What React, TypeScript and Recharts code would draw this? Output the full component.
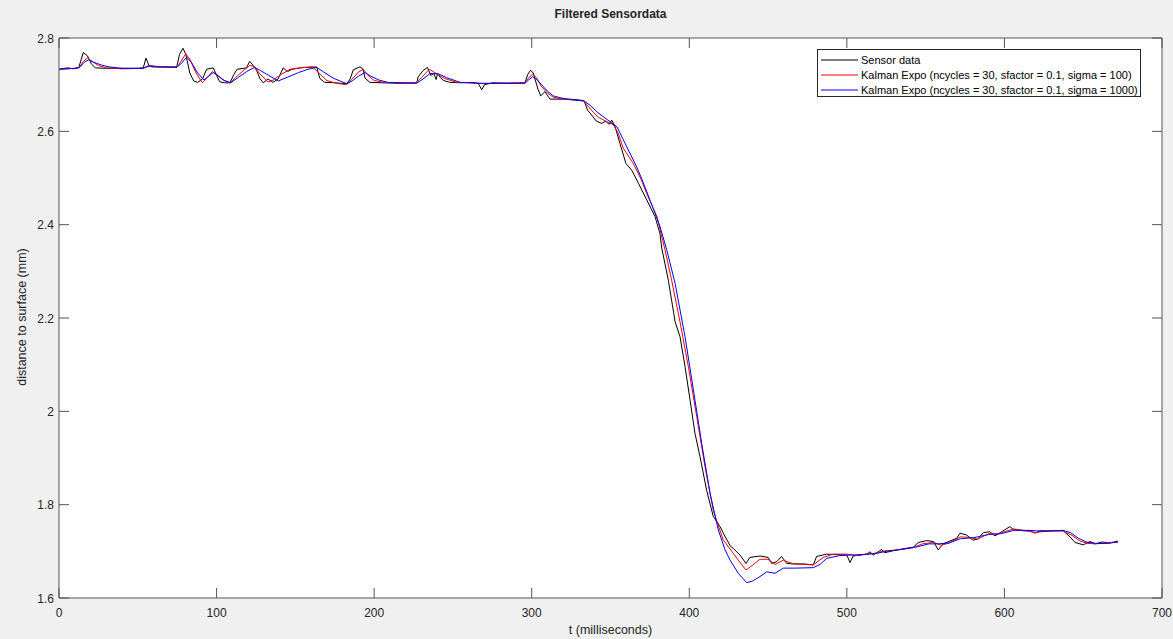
import { LineChart, Line, XAxis, YAxis, CartesianGrid } from "recharts"

// [t (ms), distance (mm)]
const sensorData: [number, number][] = [
  [0, 2.733], [3, 2.735], [6, 2.736], [9, 2.734], [12.5, 2.736], [15.4, 2.769], [18, 2.762], [20.5, 2.745], [23, 2.736],
  [30, 2.735], [40, 2.735], [50, 2.735], [53.5, 2.736], [55.2, 2.757], [57, 2.742], [59, 2.738], [65, 2.738], [74.7, 2.738],
  [76.5, 2.765], [78.7, 2.778], [80.5, 2.765], [83, 2.725], [85.5, 2.708], [88, 2.705], [91, 2.712], [93.7, 2.733],
  [97.9, 2.736], [100, 2.72], [102, 2.706], [105, 2.704], [108.5, 2.704], [111, 2.722], [113, 2.733], [119, 2.736],
  [121, 2.75], [123.5, 2.74], [125.5, 2.73], [127.5, 2.713], [129.6, 2.704], [132.7, 2.712], [135.8, 2.705], [139, 2.712],
  [142.3, 2.736], [145, 2.728], [148, 2.733], [155, 2.737], [163.5, 2.738], [165.6, 2.713], [168.6, 2.705], [175, 2.704],
  [182.6, 2.702], [184.7, 2.712], [186.8, 2.732], [191, 2.738], [193, 2.733], [194.2, 2.714], [197.3, 2.705], [205, 2.704],
  [215, 2.703], [227, 2.704], [228, 2.717], [231, 2.73], [233.8, 2.737], [236, 2.72], [238, 2.724], [239.3, 2.711],
  [240.3, 2.724], [242, 2.715], [244, 2.709], [248, 2.705], [255, 2.704], [262, 2.705], [266, 2.703], [268.3, 2.689],
  [270, 2.7], [275, 2.704], [285, 2.703], [295.7, 2.704], [297.5, 2.722], [299.3, 2.731], [301, 2.725], [302, 2.713],
  [304, 2.69], [305.7, 2.676], [308.4, 2.685], [311.6, 2.669], [318, 2.669], [324.3, 2.669], [333.2, 2.666], [335.5, 2.645],
  [338, 2.635], [341, 2.622], [344.4, 2.617], [347, 2.622], [349, 2.615], [350.8, 2.624], [352.9, 2.61], [356, 2.574],
  [359.8, 2.531], [363.4, 2.517], [367.7, 2.489], [373, 2.453], [378.3, 2.417], [381.4, 2.381], [382.5, 2.35],
  [386.7, 2.281], [391, 2.192], [394.1, 2.16], [397.3, 2.096], [400.5, 2.024], [403.6, 1.953], [406.8, 1.903], [411, 1.831],
  [415.2, 1.775], [419.5, 1.753], [421.6, 1.739], [425.9, 1.712], [428, 1.706], [432.2, 1.692], [436, 1.674], [438.5, 1.687],
  [444.9, 1.69], [450, 1.687], [452.3, 1.674], [455.5, 1.678], [458.6, 1.689], [461.8, 1.674], [466, 1.673], [472.4, 1.673],
  [478.7, 1.671], [480.8, 1.689], [487.2, 1.694], [500, 1.692], [502, 1.676], [504, 1.69], [512.6, 1.694], [514.7, 1.699],
  [516.8, 1.692], [522.1, 1.704], [524, 1.697], [531.6, 1.703], [542.2, 1.709], [545.4, 1.719], [550.7, 1.723], [555, 1.721],
  [558, 1.703], [561, 1.716], [569.7, 1.728], [571.8, 1.739], [576, 1.735], [580, 1.724], [583, 1.726], [586.6, 1.74],
  [590.7, 1.742], [594, 1.733], [597.3, 1.74], [603.5, 1.753], [605.6, 1.747], [612, 1.744], [616.3, 1.744], [619.4, 1.739],
  [622.6, 1.744], [637.4, 1.744], [641.6, 1.731], [644.8, 1.719], [650, 1.714], [654.4, 1.721], [657.6, 1.716], [662, 1.72],
  [667, 1.718], [672, 1.722],
]

const kalman100Data: [number, number][] = [
  [0, 2.733], [10, 2.735], [13, 2.737], [15.5, 2.75], [18, 2.757], [21, 2.75], [25, 2.741], [30, 2.736], [40, 2.734],
  [53.5, 2.735], [56, 2.74], [58, 2.741], [62, 2.738], [74.7, 2.737], [77, 2.748], [80.4, 2.766], [83, 2.755], [87, 2.725],
  [91, 2.704], [94, 2.715], [97.3, 2.728], [100, 2.722], [104, 2.71], [108.5, 2.704], [113, 2.718], [117, 2.73], [121, 2.741],
  [124, 2.739], [127, 2.725], [132.7, 2.706], [136, 2.71], [140, 2.72], [146.6, 2.733], [153, 2.736], [160.8, 2.738],
  [165, 2.725], [169.9, 2.709], [176, 2.703], [182.6, 2.7], [186, 2.712], [190, 2.727], [193.1, 2.733], [196, 2.72],
  [200, 2.709], [206, 2.705], [215, 2.704], [227, 2.704], [230, 2.715], [235, 2.733], [238, 2.727], [241, 2.72], [245, 2.713],
  [252.4, 2.705], [262, 2.704], [270, 2.702], [280, 2.703], [295.7, 2.704], [298, 2.714], [300.6, 2.723], [303, 2.715],
  [306, 2.697], [310, 2.682], [313.7, 2.673], [320, 2.669], [328, 2.667], [333.2, 2.665], [335, 2.657], [338, 2.645],
  [342.3, 2.63], [347, 2.622], [351.8, 2.614], [355, 2.595], [358.1, 2.564], [364.5, 2.531], [369, 2.5], [373, 2.467],
  [379.5, 2.417], [384.6, 2.346], [388.8, 2.281], [394.1, 2.192], [399.4, 2.096], [404.7, 1.989], [410, 1.881],
  [415.2, 1.788], [417.4, 1.765], [421.6, 1.724], [425.9, 1.705], [431.1, 1.681], [436, 1.66], [440, 1.67], [444.9, 1.683],
  [450, 1.683], [454.4, 1.672], [459.7, 1.681], [466, 1.673], [472, 1.672], [478.7, 1.671], [485, 1.687], [491.4, 1.694],
  [500, 1.694], [506, 1.691], [512, 1.694], [518, 1.696], [524, 1.701], [532, 1.703], [542, 1.708], [548, 1.716],
  [555, 1.719], [560, 1.713], [565, 1.718], [572, 1.731], [578, 1.73], [583, 1.726], [590, 1.738], [596, 1.737], [600, 1.742],
  [606, 1.748], [612, 1.745], [620, 1.74], [625, 1.743], [637, 1.744], [643, 1.734], [648, 1.722], [653, 1.717], [658, 1.716],
  [665, 1.718], [672, 1.72],
]

const kalman1000Data: [number, number][] = [
  [0, 2.733], [10, 2.735], [13, 2.737], [16, 2.748], [18.7, 2.753], [22, 2.748], [27, 2.742], [32, 2.738], [40, 2.735],
  [53.5, 2.735], [56.5, 2.739], [59, 2.74], [65, 2.738], [74.7, 2.737], [77.5, 2.745], [81, 2.759], [84, 2.748], [88, 2.725],
  [92, 2.71], [95, 2.718], [97.9, 2.726], [101, 2.719], [105, 2.709], [109, 2.704], [114, 2.716], [119, 2.728], [124, 2.737],
  [128, 2.73], [133, 2.72], [139.2, 2.708], [145, 2.716], [152, 2.726], [158, 2.733], [163.5, 2.737], [168, 2.727],
  [174, 2.714], [182.6, 2.702], [186, 2.708], [190, 2.718], [194.2, 2.726], [198, 2.718], [203, 2.71], [208.6, 2.705],
  [215, 2.704], [227, 2.703], [231, 2.712], [235.5, 2.724], [240.8, 2.723], [246, 2.715], [254.5, 2.705], [265, 2.703],
  [275, 2.703], [295.7, 2.703], [298, 2.71], [300.6, 2.717], [303, 2.712], [307, 2.697], [310, 2.686], [313.7, 2.676],
  [318, 2.672], [324.3, 2.668], [333.2, 2.665], [337, 2.656], [342, 2.64], [348, 2.625], [354, 2.61], [357, 2.59],
  [360.3, 2.567], [366.6, 2.524], [370, 2.497], [375, 2.453], [381.4, 2.396], [385.7, 2.346], [391, 2.274], [397.3, 2.16],
  [402.6, 2.046], [407.9, 1.931], [413.2, 1.824], [418.4, 1.746], [422.7, 1.703], [425.9, 1.681], [431.1, 1.653],
  [436.4, 1.633], [440, 1.636], [444.9, 1.646], [449.1, 1.656], [454.4, 1.653], [459.7, 1.664], [467, 1.664], [478.7, 1.665],
  [483, 1.672], [487.2, 1.685], [495.6, 1.691], [502, 1.692], [510, 1.693], [518, 1.695], [525, 1.7], [535, 1.704],
  [545, 1.71], [552, 1.716], [558, 1.716], [565, 1.718], [572, 1.727], [580, 1.729], [590, 1.736], [598, 1.738],
  [606, 1.745], [615, 1.745], [625, 1.743], [637, 1.745], [642, 1.74], [647, 1.728], [652, 1.72], [658, 1.717], [665, 1.717],
  [672, 1.72],
]

const xTicks = [0, 100, 200, 300, 400, 500, 600, 700]
const yTicks = [1.6, 1.8, 2, 2.2, 2.4, 2.6, 2.8]

const seriesNames = [
  "Sensor data",
  "Kalman Expo (ncycles = 30, sfactor = 0.1, sigma = 100)",
  "Kalman Expo (ncycles = 30, sfactor = 0.1, sigma = 1000)",
]
const seriesColors = ["#000000", "#ff0000", "#0000ff"]

const AXIS = "#555555"
const TEXT = "#262626"
const FONT = "'Liberation Sans', Arial, Helvetica, sans-serif"
const TICK_LEN = 10

const toRows = (pts: [number, number][]) => pts.map(([t, v]) => ({ t, v }))

// tick marks point into the plot, like MATLAB
function BottomTick({ x, payload }: any) {
  return (
    <g>
      <line x1={x} y1={598} x2={x} y2={598 - TICK_LEN} stroke={AXIS} />
      <text x={x} y={617} textAnchor="middle" fontSize={12} fill={TEXT} fontFamily={FONT}>{payload.value}</text>
    </g>
  )
}
function TopTick({ x }: any) {
  return <line x1={x} y1={38} x2={x} y2={38 + TICK_LEN} stroke={AXIS} />
}
function LeftTick({ y, payload }: any) {
  return (
    <g>
      <line x1={59} y1={y} x2={59 + TICK_LEN} y2={y} stroke={AXIS} />
      <text x={54} y={y + 4.5} textAnchor="end" fontSize={12} fill={TEXT} fontFamily={FONT}>{String(payload.value)}</text>
    </g>
  )
}
function RightTick({ y }: any) {
  return <line x1={1162} y1={y} x2={1162 - TICK_LEN} y2={y} stroke={AXIS} />
}

export default function App() {
  const series = [sensorData, kalman100Data, kalman1000Data].map(toRows)

  return (
    <div style={{ position: "fixed", left: 0, top: 0, width: 1173, height: 639, background: "#f0f0f0", fontFamily: FONT }}>
      <LineChart width={1173} height={639} margin={{ top: 37, right: 10, bottom: 0, left: 0 }}>
        <CartesianGrid fill="#ffffff" horizontal={false} vertical={false} />
        <XAxis
          type="number" dataKey="t" domain={[0, 700]} ticks={xTicks} allowDataOverflow
          height={41} stroke={AXIS} tickLine={false} tick={<BottomTick />} interval={0}
        />
        <XAxis
          xAxisId="top" orientation="top" type="number" dataKey="t" domain={[0, 700]} ticks={xTicks} allowDataOverflow
          height={1} stroke={AXIS} tickLine={false} tick={<TopTick />} interval={0}
        />
        <YAxis
          type="number" domain={[1.6, 2.8]} ticks={yTicks} allowDataOverflow
          width={59} stroke={AXIS} tickLine={false} tick={<LeftTick />} interval={0}
        />
        <YAxis
          yAxisId="right" orientation="right" type="number" domain={[1.6, 2.8]} ticks={yTicks} allowDataOverflow
          width={1} stroke={AXIS} tickLine={false} tick={<RightTick />} interval={0}
        />
        {series.map((rows, i) => (
          <Line
            key={seriesNames[i]} data={rows} dataKey="v" name={seriesNames[i]} type="linear"
            stroke={seriesColors[i]} strokeWidth={1} dot={false} isAnimationActive={false}
          />
        ))}
      </LineChart>

      <div style={{ position: "absolute", left: 59, width: 1103, top: 7, textAlign: "center", fontSize: 12, fontWeight: "bold", color: TEXT }}>
        Filtered Sensordata
      </div>
      <div style={{ position: "absolute", left: 59, width: 1103, top: 623, textAlign: "center", fontSize: 12.5, color: TEXT }}>
        t (milliseconds)
      </div>
      <div style={{ position: "absolute", left: 22, top: 318, width: 0, height: 0 }}>
        <div style={{ position: "absolute", left: -150, top: -8, width: 300, textAlign: "center", fontSize: 12.5, color: TEXT, transform: "rotate(-90deg)", whiteSpace: "nowrap" }}>
          distance to surface (mm)
        </div>
      </div>

      <div style={{ position: "absolute", left: 817, top: 49, width: 324, height: 48, boxSizing: "border-box", border: "1px solid #262626", background: "#fff", paddingTop: 2 }}>
        {seriesNames.map((name, i) => (
          <div key={name} style={{ display: "flex", alignItems: "center", height: 15.3, fontSize: 11, color: "#000", whiteSpace: "nowrap" }}>
            <svg width={43} height={10} style={{ flex: "none" }}>
              <line x1={3} y1={5} x2={40} y2={5} stroke={seriesColors[i]} strokeWidth={1} />
            </svg>
            <span>{name}</span>
          </div>
        ))}
      </div>
    </div>
  )
}
